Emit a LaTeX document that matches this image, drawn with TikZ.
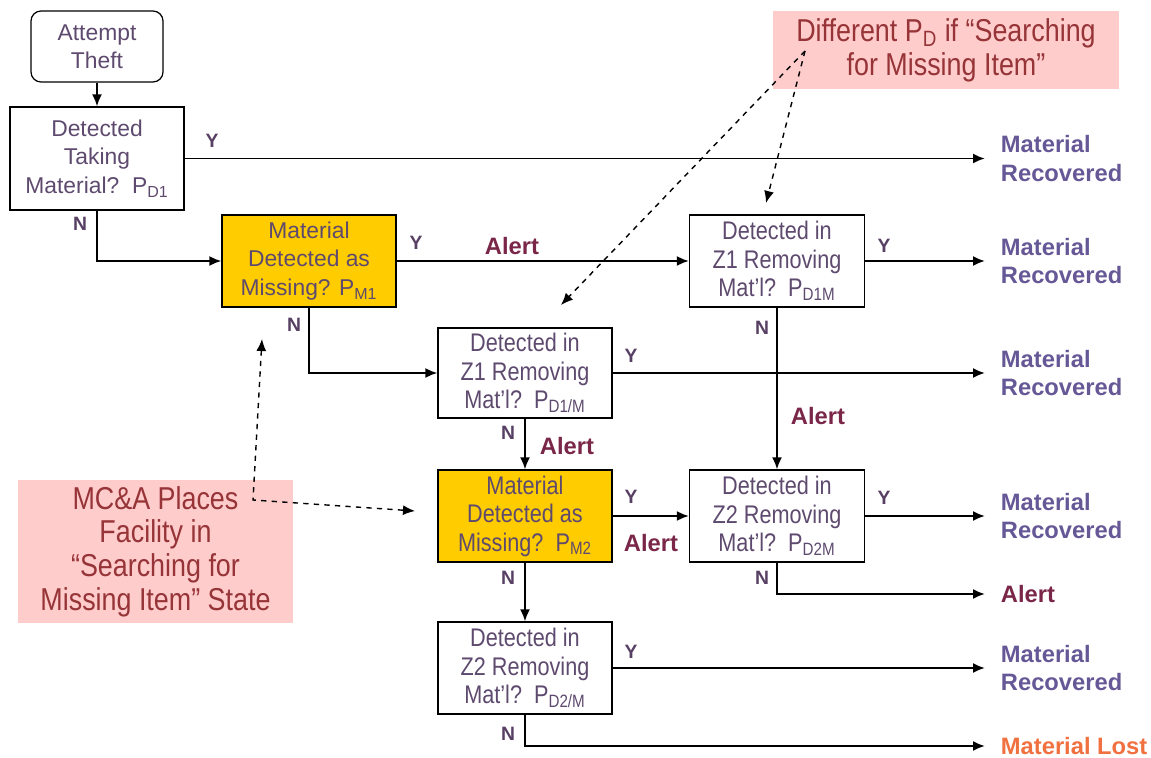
\documentclass[tikz,border=0pt]{standalone}
\usepackage{fontspec}
\setmainfont{Liberation Sans}
\newfontfamily\narrowfont[FakeStretch=0.85]{Liberation Sans}
\usetikzlibrary{arrows.meta}
\definecolor{boxtext}{RGB}{94,74,110}
\definecolor{yntext}{RGB}{88,64,100}
\definecolor{recov}{RGB}{102,88,150}
\definecolor{alertred}{RGB}{122,38,72}
\definecolor{lostorange}{RGB}{240,112,64}
\definecolor{notetext}{RGB}{150,52,56}
\definecolor{notefill}{RGB}{255,204,204}
\definecolor{missfill}{RGB}{255,204,0}
\begin{document}
\begin{tikzpicture}[>={Latex[length=2.4mm,width=2mm]}, line width=1.1pt,
  qbox/.style={rectangle, draw=black, line width=0.7pt, fill=white, text=boxtext, align=center, inner sep=0pt, minimum width=3.48cm, minimum height=1.84cm, font=\fontsize{13}{16.2}\selectfont},
  zbox/.style={qbox, font=\narrowfont\fontsize{14.5}{16.2}\selectfont},
  yn/.style={text=yntext, font=\bfseries\fontsize{11}{13}\selectfont},
  alertlbl/.style={text=alertred, font=\bfseries\fontsize{13.5}{16}\selectfont},
  outcome/.style={anchor=west, inner xsep=0.3cm, inner ysep=0pt, align=left, text=recov, font=\bfseries\fontsize{13.5}{16}\selectfont},
  note/.style={rectangle, fill=notefill, text=notetext, align=center, inner sep=0pt, font=\narrowfont\fontsize{18}{19.2}\selectfont},
  notearrow/.style={->, dashed, line width=0.8pt}]
\useasboundingbox (0,0) rectangle (23.02,15.14);
% question boxes
\node[qbox, rounded corners=0.2cm, minimum width=2.64cm, minimum height=1.42cm] (node0) at (1.94, 14.21) {Attempt\\Theft};
\node[qbox, minimum height=2.06cm] (node1) at (1.94, 11.97) {Detected\\Taking\\Material?\ \ P\textsubscript{D1}};
\node[qbox, fill=missfill] (node2) at (6.18, 9.92) {Material\\Detected as\\Missing? P\textsubscript{M1}};
\node[zbox, minimum width=3.50cm] (node3) at (15.54, 9.92) {Detected in\\Z1 Removing\\Mat’l?\ \ P\textsubscript{D1M}};
\node[zbox, minimum height=1.80cm] (node4) at (10.50, 7.68) {Detected in\\Z1 Removing\\Mat’l?\ \ P\textsubscript{D1/M}};
\node[zbox, fill=missfill] (node5) at (10.50, 4.82) {Material\\Detected as\\Missing?\ \ P\textsubscript{M2}};
\node[zbox, minimum width=3.50cm] (node6) at (15.54, 4.82) {Detected in\\Z2 Removing\\Mat’l?\ \ P\textsubscript{D2M}};
\node[zbox] (node7) at (10.50, 1.78) {Detected in\\Z2 Removing\\Mat’l?\ \ P\textsubscript{D2/M}};
% outcomes
\node[outcome] (out0) at (19.70, 11.97) {Material\\Recovered};
\node[outcome] (out1) at (19.70, 9.92) {Material\\Recovered};
\node[outcome] (out2) at (19.70, 7.68) {Material\\Recovered};
\node[outcome] (out3) at (19.70, 4.82) {Material\\Recovered};
\node[outcome, text=alertred] (out4) at (19.70, 3.26) {Alert};
\node[outcome] (out5) at (19.70, 1.78) {Material\\Recovered};
\node[outcome, text=lostorange] (out6) at (19.70, 0.22) {Material Lost};
% notes
\node[note, minimum width=6.92cm, minimum height=1.56cm] (note0) at (18.92, 14.14) {Different P\textsubscript{D} if “Searching\\for Missing Item”};
\node[note, minimum width=5.50cm, minimum height=2.86cm] (note1) at (3.11, 4.11) {MC\&A Places\\Facility in\\“Searching for\\Missing Item” State};
% connectors
\draw[->] (node0) -- (node1);
\draw[->] (node1.east) -- (out0.west);
\draw[->] (node1.south) |- (node2.west);
\draw[->] (node2.east) -- (node3.west);
\draw[->] (node2.south) |- (node4.west);
\draw[->] (node3.east) -- (out1.west);
\draw[->] (node3) -- (node6);
\draw[->] (node4.east) -- (out2.west);
\draw[->] (node4) -- (node5);
\draw[->] (node5.east) -- (node6.west);
\draw[->] (node5) -- (node7);
\draw[->] (node6.east) -- (out3.west);
\draw[->] (node6.south) |- (out4.west);
\draw[->] (node7.east) -- (out5.west);
\draw[->] (node7.south) |- (out6.west);
% branch labels
\node[yn] (lblY1) at (4.24, 12.32) {Y};
\node[yn] (lblN1) at (1.60, 10.66) {N};
\node[yn] (lblY2) at (8.32, 10.28) {Y};
\node[alertlbl] (alert2) at (10.24, 10.22) {Alert};
\node[yn] (lblN2) at (5.88, 8.64) {N};
\node[yn] (lblY3) at (17.68, 10.22) {Y};
\node[yn] (lblN3) at (15.24, 8.58) {N};
\node[alertlbl] (alert3) at (16.36, 6.82) {Alert};
\node[yn] (lblY4) at (12.62, 8.02) {Y};
\node[yn] (lblN4) at (10.16, 6.48) {N};
\node[alertlbl] (alert4) at (11.34, 6.22) {Alert};
\node[yn] (lblY5) at (12.62, 5.20) {Y};
\node[alertlbl] (alert5) at (13.02, 4.28) {Alert};
\node[yn] (lblN5) at (10.16, 3.58) {N};
\node[yn] (lblY6) at (17.68, 5.18) {Y};
\node[yn] (lblN6) at (15.24, 3.58) {N};
\node[yn] (lblY7) at (12.62, 2.10) {Y};
\node[yn] (lblN7) at (10.16, 0.46) {N};
% dashed pointers from the notes
\coordinate (c0) at (16.10, 14.12);
\coordinate (c1) at (11.22, 9.04);
\coordinate (c2) at (15.32, 11.08);
\coordinate (c3) at (5.06, 5.14);
\coordinate (c4) at (5.24, 8.36);
\coordinate (c5) at (8.30, 4.92);
\draw[notearrow] (c0) -- (c1);
\draw[notearrow] (c0) -- (c2);
\draw[notearrow, <->] (c4) -- (c3) -- (c5);
\end{tikzpicture}
\end{document}
